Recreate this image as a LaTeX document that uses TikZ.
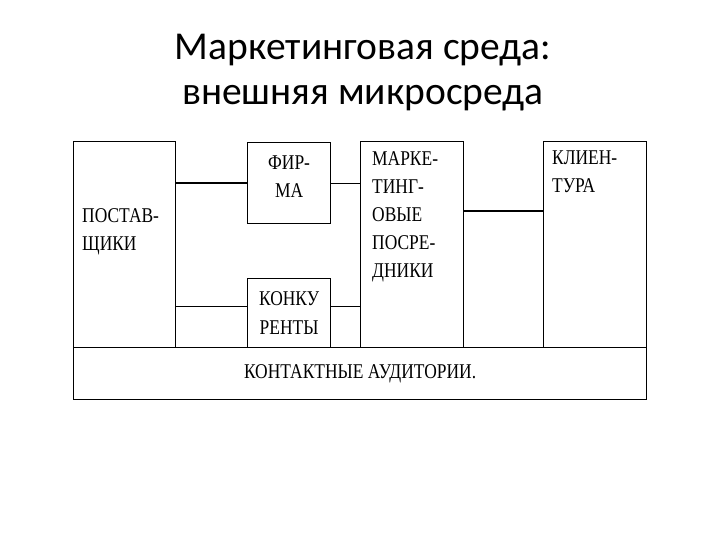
\documentclass[tikz,border=0pt]{standalone}
\usepackage{fontspec}
\usepackage{tikz}
\usetikzlibrary{positioning, calc}

\newfontfamily\titlefont{Carlito}
\newfontfamily\boxfont[FakeStretch=0.83]{Liberation Serif}

\begin{document}
\begin{tikzpicture}[
  x=1pt, y=-1pt,
  blk/.style={rectangle, draw=black, line width=1.2pt, anchor=north west,
        inner sep=0pt, align=center,
        font=\boxfont\fontsize{21}{29}\selectfont},
  txt/.style={anchor=base west, inner sep=0pt, align=left,
        font=\boxfont\fontsize{21}{28}\selectfont},
  ttl/.style={align=center, inner sep=0pt,
        font=\titlefont\fontsize{39.5}{45}\selectfont},
  link/.style={black, line width=0.8pt},
  linkB/.style={black, line width=2pt},
]
\useasboundingbox[fill=white] (0,0) rectangle (720,540);

% --- Title (base = last line) ---
\node[ttl, anchor=base] (title) at (363,105)
  {Маркетинговая среда:\\внешняя микросреда};

% --- Upper row of boxes ---
\node[blk, minimum width=102pt, minimum height=206pt] (supp)   at (73,141)  {};
\node[blk, minimum width=83pt,  minimum height=81pt]  (firm)   at (247,142) {};
\node[blk, minimum width=83pt,  minimum height=69pt]  (comp)   at (247,278) {КОНКУ\\РЕНТЫ};
\node[blk, minimum width=103pt, minimum height=206pt] (inter)  at (360,141) {};
\node[blk, minimum width=103pt, minimum height=206pt] (client) at (543,141) {};

% --- Bottom band ---
\node[blk, minimum width=573pt, minimum height=52pt]  (audit)  at (73,347)
  {КОНТАКТНЫЕ АУДИТОРИИ.};

% --- Box texts ---
\node[txt, anchor=base, align=center] (firmT) at ($(firm.north)+(0,55)$) {ФИР-\\МА};
\node[txt] (suppT)   at ($(supp.north west)+(9,109)$)   {ПОСТАВ-\\ЩИКИ};
\node[txt] (interT)  at ($(inter.north west)+(12,136)$) {МАРКЕ-\\ТИНГ-\\ОВЫЕ\\ПОСРЕ-\\ДНИКИ};
\node[txt] (clientT) at ($(client.north west)+(9,52)$)  {КЛИЕН-\\ТУРА};

% --- Connections ---
\draw[linkB] (firm.west -| supp.east) -- (firm.west);
\draw[link]  (firm.east) -- (firm.east -| inter.west);
\draw[link]  ([yshift=7pt]comp.west -| supp.east) -- ([yshift=7pt]comp.west);
\draw[link]  ([yshift=7pt]comp.east) -- ([yshift=7pt]comp.east -| inter.west);
\draw[linkB] ([yshift=34pt]inter.east) -- ([yshift=34pt]inter.east -| client.west);

\end{tikzpicture}
\end{document}
